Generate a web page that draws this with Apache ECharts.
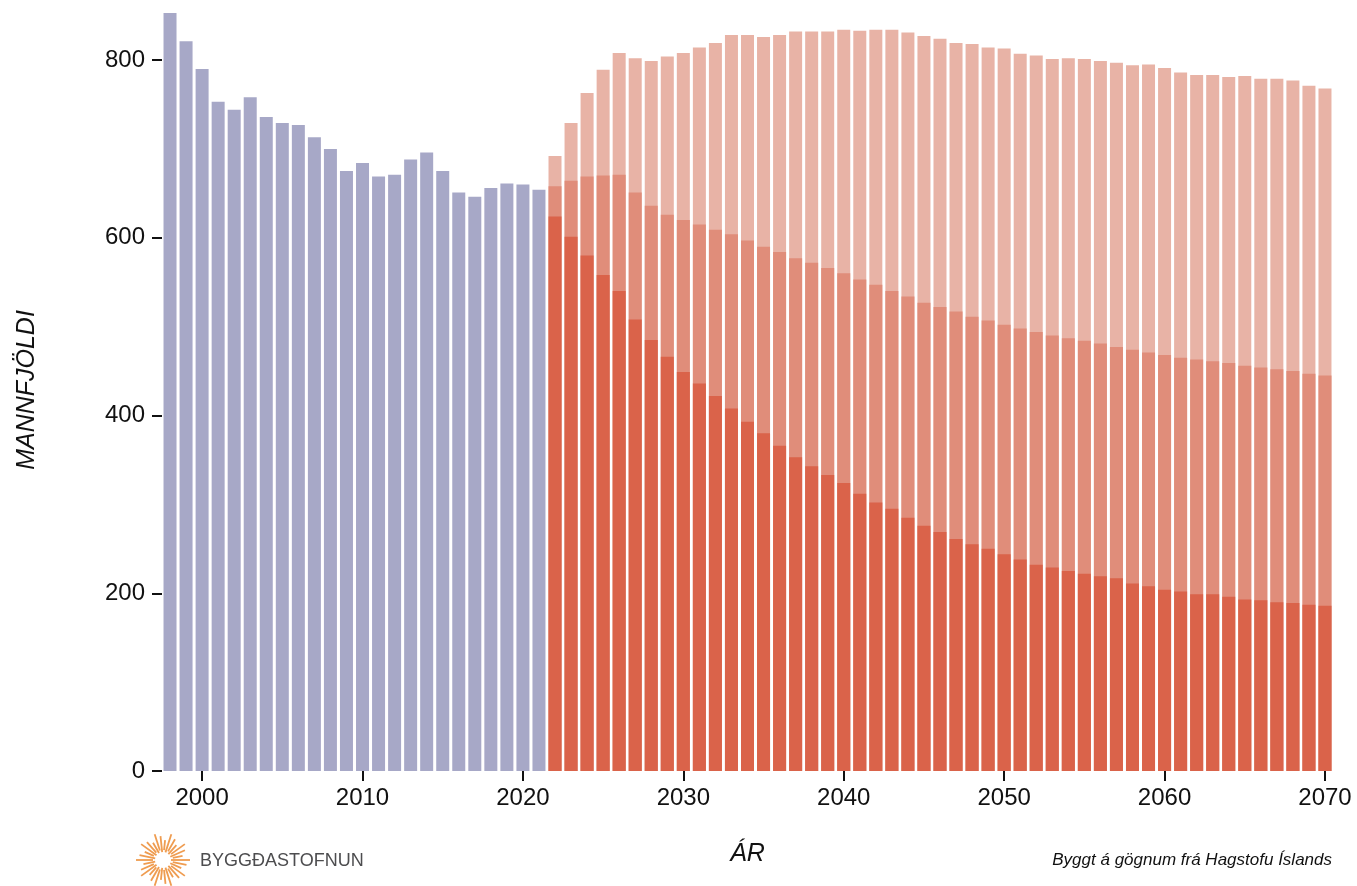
<!DOCTYPE html>
<html>
<head>
<meta charset="utf-8">
<title>Mannfjöldi</title>
<script src="https://cdn.jsdelivr.net/npm/echarts@6/dist/echarts.min.js"></script>
<style>
  html, body { margin: 0; padding: 0; background: #fff; }
  #main { width: 1357px; height: 886px; }
</style>
</head>
<body>
<div id="main"></div>
<script>
// ár 1998-2070
var years = [];
for (var y = 1998; y <= 2070; y++) years.push(String(y));

// mannfjöldi 1998-2021
var historical = [853, 821, 790, 753, 744, 758, 736, 729, 727, 713, 700, 675,
  684, 669, 671, 688, 696, 675, 651, 646, 656, 661, 660, 654];

// spár 2022-2070
var projHigh = [692, 729, 763, 789, 808, 802, 799, 804, 808, 814, 819, 828,
  828, 826, 828, 832, 832, 832, 834, 833, 834, 834, 831, 827, 824, 819,
  818, 814, 813, 807, 805, 801, 802, 801, 799, 797, 794, 795, 791, 786,
  783, 783, 781, 782, 779, 779, 777, 771, 768];
var projMid = [658, 664, 669, 670, 671, 651, 636, 626, 620, 615, 609, 604,
  597, 590, 584, 577, 572, 566, 560, 553, 547, 540, 534, 527, 522, 517,
  511, 507, 502, 498, 494, 490, 487, 484, 481, 477, 474, 471, 468, 465,
  463, 461, 459, 456, 454, 452, 450, 447, 445];
var projLow = [624, 601, 580, 558, 540, 508, 485, 466, 449, 436, 422, 408,
  393, 380, 366, 353, 343, 333, 324, 312, 302, 295, 285, 276, 269, 261,
  255, 250, 244, 238, 232, 229, 225, 222, 219, 217, 211, 208, 204, 202,
  199, 199, 196, 193, 192, 190, 189, 187, 186];

var nHist = historical.length;
function padHist(arr) {
  return arr.concat(new Array(years.length - arr.length).fill('-'));
}
function padProj(arr) {
  return new Array(nHist).fill('-').concat(arr);
}

// sólarmerki Byggðastofnunar
var logoGraphics = [];
var rays = 30;
for (var i = 0; i < rays; i++) {
  var a = (i / rays) * Math.PI * 2;
  var r0 = 8 + (i % 2) * 2;
  var r1 = (i % 3 === 0) ? 27 : (i % 3 === 1 ? 24 : 20);
  logoGraphics.push({
    type: 'line',
    shape: {
      x1: 163 + Math.cos(a) * r0, y1: 860 + Math.sin(a) * r0,
      x2: 163 + Math.cos(a) * r1, y2: 860 + Math.sin(a) * r1
    },
    style: { stroke: '#ef9c50', lineWidth: 1.8 }
  });
}

var font = '"Liberation Sans", Arial, Helvetica, sans-serif';

var myChart = echarts.init(document.getElementById('main'));
var option = {
  animation: false,
  grid: { left: 162, right: 24, top: 60, bottom: 115 },
  xAxis: {
    type: 'category',
    data: years,
    name: 'ÁR',
    nameLocation: 'middle',
    nameGap: 71,
    nameTextStyle: { fontFamily: font, fontSize: 25, fontStyle: 'italic', color: '#111' },
    axisLine: { show: false },
    axisTick: {
      show: true,
      alignWithLabel: true,
      length: 10,
      interval: function (idx, val) { return Number(val) % 10 === 0; },
      lineStyle: { color: '#111', width: 2 }
    },
    axisLabel: {
      interval: function (idx, val) { return Number(val) % 10 === 0; },
      fontFamily: font, fontSize: 24, color: '#111', margin: 15
    },
    splitLine: { show: false }
  },
  yAxis: {
    type: 'value',
    min: 0,
    max: 800,
    interval: 200,
    axisLine: { show: false },
    axisTick: { show: true, length: 10, lineStyle: { color: '#111', width: 2 } },
    axisLabel: { fontFamily: font, fontSize: 24, color: '#111', margin: 17 },
    splitLine: { show: false }
  },
  series: [
    {
      name: 'Mannfjöldi',
      type: 'bar',
      data: padHist(historical),
      barWidth: 13,
      barGap: '-100%',
      clip: false,
      itemStyle: { color: '#a7a8c7' }
    },
    {
      name: 'Há spá',
      type: 'bar',
      data: padProj(projHigh),
      barWidth: 13,
      barGap: '-100%',
      clip: false,
      itemStyle: { color: '#e8b3a6' }
    },
    {
      name: 'Miðspá',
      type: 'bar',
      data: padProj(projMid),
      barWidth: 13,
      barGap: '-100%',
      clip: false,
      itemStyle: { color: '#e08d7a' }
    },
    {
      name: 'Lág spá',
      type: 'bar',
      data: padProj(projLow),
      barWidth: 13,
      barGap: '-100%',
      clip: false,
      itemStyle: { color: '#da634a' }
    }
  ],
  graphic: logoGraphics.concat([
    {
      type: 'text',
      x: 27,
      y: 390,
      rotation: Math.PI / 2,
      style: {
        text: 'MANNFJÖLDI', fontFamily: font, fontSize: 25, fontStyle: 'italic',
        fill: '#111', align: 'center', verticalAlign: 'middle'
      }
    },
    {
      type: 'text',
      left: 200,
      top: 852,
      style: { text: 'BYGGÐASTOFNUN', fontFamily: font, fontSize: 18, fill: '#4d4d4f' }
    },
    {
      type: 'text',
      right: 25,
      top: 852,
      style: { text: 'Byggt á gögnum frá Hagstofu Íslands', fontFamily: font, fontSize: 17, fontStyle: 'italic', fill: '#111' }
    }
  ])
};
myChart.setOption(option);
</script>
</body>
</html>
